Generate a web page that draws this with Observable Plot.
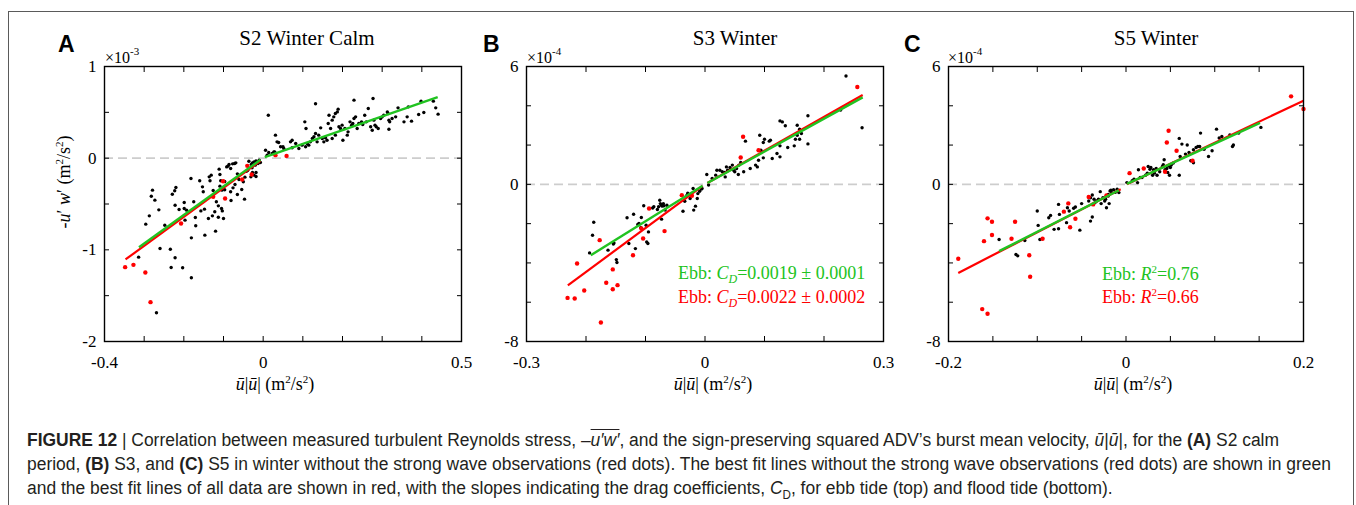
<!DOCTYPE html>
<html>
<head>
<meta charset="utf-8">
<script src="https://cdn.jsdelivr.net/npm/d3@7"></script>
<script src="https://cdn.jsdelivr.net/npm/@observablehq/plot@0.6"></script>
<style>
  body { margin: 0; background: #fff; }
  #root { position: relative; width: 1356px; height: 505px; background: #fff; overflow: hidden; }
  #outer { position: absolute; left: 8px; top: 11px; width: 1346px; height: 500px; box-sizing: border-box;
           border: 1px solid #5a5a5a; border-bottom: none; }
  #caption { position: absolute; left: 27px; top: 428px; font-family: 'Liberation Sans', Arial, sans-serif;
             font-size: 18px; line-height: 24px; color: #231f20; transform-origin: 0 0; }
  #caption div { white-space: nowrap; width: max-content; }
  .ov { text-decoration: overline; }
  svg.panel text { font-family: 'Liberation Serif','Times New Roman',serif; }
</style>
</head>
<body>
<div id="root">
  <div id="outer"></div>
  <div id="caption">
    <div id="cap1"><b>FIGURE 12</b> | Correlation between measured turbulent Reynolds stress, &#8211;<i class="ov">u&#8242;w&#8242;</i>, and the sign-preserving squared ADV&#8217;s burst mean velocity, <i>&#363;</i>|<i>&#363;</i>|, for the <b>(A)</b> S2 calm</div>
    <div>period, <b>(B)</b> S3, and <b>(C)</b> S5 in winter without the strong wave observations (red dots). The best fit lines without the strong wave observations (red dots) are shown in green</div>
    <div>and the best fit lines of all data are shown in red, with the slopes indicating the drag coefficients, <i>C</i><sub style="font-size:12px">D</sub>, for ebb tide (top) and flood tide (bottom).</div>
  </div>
</div>
<script>
// ---------------- DATA ----------------
// Panel A: S2 Winter Calm  (x: u|u| m^2/s^2, y: -u'w' in units of 1e-3 m^2/s^2)
const aBlack = [
  [-0.279,-0.349],[-0.282,-0.415],[-0.273,-0.458],[-0.287,-0.629],[-0.296,-0.720],[-0.263,-0.564],[-0.248,-0.731],
  [-0.260,-0.985],[-0.234,-0.993],[-0.222,-1.087],[-0.232,-1.193],[-0.203,-1.196],[-0.181,-1.305],[-0.269,-1.687],
  [-0.314,-1.080],[-0.220,-0.320],[-0.223,-0.356],[-0.229,-0.393],[-0.222,-0.513],[-0.212,-0.560],[-0.199,-0.484],
  [-0.199,-0.549],[-0.197,-0.676],[-0.193,-0.567],[-0.182,-0.222],[-0.175,-0.476],[-0.170,-0.738],[-0.181,-0.869],
  [-0.171,-0.647],[-0.160,-0.247],[-0.153,-0.313],[-0.151,-0.367],[-0.157,-0.575],[-0.148,-0.556],[-0.147,-0.840],
  [-0.136,-0.204],[-0.134,-0.247],[-0.131,-0.185],[-0.126,-0.353],[-0.138,-0.658],[-0.128,-0.629],[-0.120,-0.796],
  [-0.122,-0.585],[-0.118,-0.476],[-0.113,-0.644],[-0.113,-0.520],[-0.111,-0.120],[-0.109,-0.178],[-0.109,-0.305],
  [-0.107,-0.247],[-0.104,-0.349],[-0.105,-0.549],[-0.103,-0.575],[-0.097,-0.255],[-0.097,-0.345],[-0.100,-0.658],
  [-0.092,-0.095],[-0.089,-0.087],[-0.086,-0.069],[-0.082,-0.113],[-0.077,-0.062],[-0.072,-0.058],[-0.069,-0.051],
  [-0.082,-0.367],[-0.081,-0.462],[-0.076,-0.324],[-0.071,-0.287],[-0.065,-0.396],[-0.065,-0.171],[-0.061,-0.233],
  [-0.054,-0.342],[-0.050,-0.258],[-0.047,-0.447],[-0.046,-0.207],[-0.042,-0.142],[-0.039,-0.131],[-0.036,-0.033],
  [-0.030,-0.069],[-0.027,-0.051],[-0.023,-0.040],[-0.018,-0.029],[-0.016,-0.040],[-0.010,-0.022],[-0.028,-0.105],
  [-0.027,-0.156],[-0.023,-0.185],[-0.018,-0.156],[-0.031,-0.204],[-0.018,-0.200],[-0.013,-0.058],[-0.007,-0.047],
  [-0.020,-0.076],
  [0.013,0.469],[0.132,0.593],[0.229,0.633],[0.277,0.651],[0.398,0.622],[0.429,0.622],[0.435,0.549],[0.441,0.480],
  [0.031,0.251],[0.035,0.178],[0.039,0.171],[0.044,0.124],[0.029,0.069],[0.006,0.087],[0.014,0.062],[0.010,0.033],
  [0.023,0.051],[0.027,0.069],[0.050,0.124],[0.052,0.105],[0.069,0.178],[0.073,0.113],[0.082,0.160],[0.090,0.105],
  [0.098,0.142],[0.107,0.124],[0.111,0.160],[0.115,0.142],[0.119,0.178],[0.124,0.215],[0.128,0.233],[0.132,0.269],
  [0.136,0.178],[0.140,0.251],[0.145,0.331],[0.149,0.215],[0.153,0.178],[0.157,0.222],[0.161,0.196],[0.164,0.378],
  [0.166,0.469],[0.170,0.324],[0.174,0.415],[0.178,0.451],[0.182,0.487],[0.187,0.505],[0.189,0.535],[0.174,0.215],
  [0.182,0.251],[0.191,0.342],[0.195,0.324],[0.199,0.360],[0.201,0.196],[0.206,0.324],[0.212,0.251],[0.214,0.287],
  [0.219,0.396],[0.223,0.360],[0.226,0.378],[0.229,0.433],[0.233,0.451],[0.237,0.324],[0.241,0.378],[0.248,0.396],
  [0.251,0.367],[0.256,0.469],[0.260,0.396],[0.265,0.542],[0.271,0.342],[0.275,0.305],[0.279,0.415],[0.282,0.360],
  [0.285,0.342],[0.290,0.324],[0.296,0.433],[0.300,0.451],[0.304,0.469],[0.313,0.505],[0.315,0.487],[0.317,0.415],
  [0.319,0.396],[0.317,0.316],[0.325,0.433],[0.334,0.451],[0.340,0.549],[0.355,0.396],[0.363,0.451],[0.366,0.560],
  [0.374,0.404],[0.392,0.476],[0.405,0.498],[0.105,0.396],[0.108,0.324],[0.073,0.196]
];
const aRed = [
  [-0.348,-1.189],[-0.327,-1.164],[-0.297,-1.247],[-0.284,-1.571],[-0.207,-0.713],[-0.126,-0.422],[-0.096,-0.440],
  [-0.101,-0.251],[-0.053,-0.233],[-0.029,-0.178],[-0.040,-0.084],[0.031,0.033],[0.059,0.025]
];
const aFitRed   = [[-0.347,-1.105,-0.007,-0.030]];
const aFitGreen = [[-0.313,-0.971,-0.007,-0.018],[0.004,0.011,0.440,0.665]];

// Panel B: S3 Winter (y in units of 1e-4)
const bBlack = [
  [-0.187,-1.93],[-0.189,-2.59],[-0.194,-3.49],[-0.163,-3.35],[-0.154,-3.04],[-0.153,-2.99],[-0.149,-3.83],[-0.148,-3.98],
  [-0.131,-1.70],[-0.128,-3.01],[-0.120,-1.52],[-0.117,-3.27],[-0.113,-2.04],[-0.111,-1.99],[-0.107,-1.69],[-0.108,-2.21],
  [-0.103,-1.09],[-0.099,-2.08],[-0.098,-2.93],[-0.096,-3.01],[-0.095,-2.42],[-0.088,-1.20],[-0.086,-1.14],[-0.080,-1.28],
  [-0.078,-1.14],[-0.076,-0.81],[-0.075,-0.98],[-0.073,-1.06],[-0.072,-1.11],[-0.070,-0.98],[-0.069,-1.09],[-0.067,-1.31],
  [-0.064,-1.06],[-0.073,-1.77],[-0.037,-1.37],[-0.034,-0.86],[-0.031,-0.58],[-0.029,-0.45],[-0.025,-0.72],[-0.024,-0.52],
  [-0.020,-0.21],[-0.019,-1.31],[-0.016,-1.11],[-0.013,-0.72],[-0.012,-0.47],[-0.009,-0.35],[-0.006,-0.24],[-0.005,-0.21],
  [0.003,0.50],[0.006,-0.03],
  [0.237,5.52],[0.264,2.88],[0.228,3.78],[0.173,3.49],[0.126,3.23],[0.130,3.18],[0.135,2.98],[0.155,3.01],[0.159,2.81],
  [0.162,2.59],[0.155,2.50],[0.152,2.30],[0.139,1.88],[0.150,1.96],[0.159,2.30],[0.173,2.06],[0.126,1.96],[0.126,1.40],
  [0.121,1.57],[0.113,1.32],[0.110,2.25],[0.108,2.20],[0.100,2.30],[0.098,2.13],[0.092,2.50],[0.094,1.74],[0.098,1.35],
  [0.090,1.23],[0.088,0.89],[0.085,0.98],[0.076,0.81],[0.068,2.20],[0.065,0.64],[0.060,1.11],[0.057,0.98],[0.056,0.50],
  [0.053,0.81],[0.050,0.64],[0.048,0.72],[0.046,0.98],[0.042,0.86],[0.038,0.72],[0.036,0.89],[0.034,0.38],[0.033,0.60],
  [0.029,0.64],[0.025,0.72],[0.020,0.72],[0.018,0.47],[0.012,0.30]
];
const bRed = [
  [-0.177,-2.84],[-0.215,-4.03],[-0.231,-5.78],[-0.219,-5.81],[-0.203,-5.40],[-0.175,-7.03],[-0.166,-5.01],[-0.155,-4.33],
  [-0.155,-5.34],[-0.147,-5.13],[-0.121,-3.61],[-0.107,-2.25],[-0.104,-2.76],[-0.094,-1.23],[-0.068,-2.38],[-0.039,-0.55],
  [-0.022,-0.58],[0.064,2.42],[0.090,1.74],[0.060,1.37],[0.256,4.96]
];
const bFitRed   = [[-0.2305,-5.14,-0.004,-0.08],[0.004,0.07,0.265,4.55]];
const bFitGreen = [[-0.192,-3.61,-0.004,-0.07],[0.004,0.07,0.265,4.43]];

// Panel C: S5 Winter (y in units of 1e-4)
const cBlack = [
  [-0.143,-2.81],[-0.124,-3.57],[-0.122,-3.64],[-0.114,-2.86],[-0.100,-1.36],[-0.099,-2.09],[-0.097,-2.81],[-0.087,-1.70],
  [-0.085,-1.58],[-0.081,-2.29],[-0.076,-1.02],[-0.076,-2.26],[-0.075,-1.53],[-0.067,-1.95],[-0.066,-1.19],[-0.064,-1.36],
  [-0.059,-1.22],[-0.057,-1.15],[-0.052,-2.33],[-0.050,-0.98],[-0.040,-1.87],[-0.038,-1.66],[-0.042,-0.85],[-0.040,-0.68],
  [-0.038,-0.54],[-0.036,-0.76],[-0.035,-0.93],[-0.033,-0.85],[-0.031,-0.76],[-0.029,-0.37],[-0.028,-0.98],[-0.026,-0.68],
  [-0.024,-0.85],[-0.023,-0.76],[-0.020,-0.59],[-0.020,-0.51],[-0.018,-0.34],[-0.017,-0.30],[-0.016,-0.42],[-0.014,-0.27],
  [-0.012,-0.40],[-0.010,-0.25],[-0.008,-0.42],[-0.022,-1.19],[-0.019,-0.98],
  [0.014,0.74],[0.016,0.35],[0.009,0.26],[0.007,0.18],[0.022,0.46],[0.024,0.57],[0.025,0.91],[0.027,0.77],[0.028,0.86],
  [0.030,0.46],[0.031,0.74],[0.032,0.57],[0.034,0.81],[0.035,0.46],[0.038,0.64],[0.041,0.91],[0.042,1.00],[0.043,1.25],
  [0.044,0.74],[0.046,0.81],[0.047,0.60],[0.048,0.94],[0.050,0.86],[0.051,0.98],[0.053,1.08],[0.049,0.46],[0.060,2.34],
  [0.063,2.05],[0.060,0.46],[0.061,1.42],[0.067,1.54],[0.069,2.00],[0.071,1.62],[0.073,1.20],[0.076,1.10],[0.076,1.76],
  [0.079,1.88],[0.081,1.93],[0.083,1.93],[0.084,2.61],[0.088,1.79],[0.093,1.42],[0.097,1.71],[0.102,2.81],[0.105,2.36],
  [0.108,2.44],[0.117,2.51],[0.120,1.93],[0.121,2.00],[0.127,2.61],[0.152,2.90],[0.001,0.09],[0.013,0.09],[0.018,0.35]
];
const cRed = [
  [-0.189,-3.79],[-0.160,-2.89],[-0.156,-1.73],[-0.151,-1.90],[-0.151,-2.58],[-0.129,-2.77],[-0.125,-1.90],[-0.109,-3.61],
  [-0.108,-4.70],[-0.094,-2.77],[-0.162,-6.35],[-0.156,-6.59],[-0.070,-1.39],[-0.065,-0.97],[-0.063,-2.18],[-0.057,-1.75],
  [-0.042,-0.64],[-0.037,-1.02],[-0.022,-0.56],[0.004,0.57],[0.020,0.81],[0.044,0.64],[0.046,2.13],[0.048,2.73],
  [0.057,1.71],[0.075,1.20],[0.186,4.48],[0.200,3.84]
];
const cFitRed   = [[-0.189,-4.51,-0.006,-0.25],[0.001,0.00,0.200,4.26]];
const cFitGreen = [[-0.143,-3.40,-0.008,-0.30],[0.001,0.02,0.151,3.13]];

// Axes
const aXTicks = [-0.4,-0.3,-0.2,-0.1,0,0.1,0.2,0.3,0.4,0.5];
const aXLabels = [-0.4,0,0.5];
const aYTicks = [-2,-1.5,-1,-0.5,0,0.5,1];
const aYLabels = [-2,-1,0,1];
const bXTicks = [-0.3,-0.2,-0.1,0,0.1,0.2,0.3];
const bXLabels = [-0.3,0,0.3];
const cXTicks = [-0.2,-0.15,-0.1,-0.05,0,0.05,0.1,0.15,0.2];
const cXLabels = [-0.2,0,0.2];
const bcYTicks = [-8,-6,-4,-2,0,2,4,6];
const bcYLabels = [-8,0,6];

const titles = ["S2 Winter Calm","S3 Winter","S5 Winter"];
const letters = ["A","B","C"];
const exponents = ["-3","-4","-4"];
const bNotes = ["0.0019 \u00b1 0.0001","0.0022 \u00b1 0.0002"];
const cNotes = ["0.76","0.66"];

// ---------------- DRAW ----------------
const SERIF = "'Liberation Serif','Times New Roman',serif";
const GREEN = "#21c321", RED = "#ff0000";
const root = document.getElementById("root");

function panel(p) {
  const xy = {x: d => d[0], y: d => d[1]};
  const seg = {x1: d => d[0], y1: d => d[1], x2: d => d[2], y2: d => d[3]};
  const fmt = d => String(d);
  const tf = {fontFamily: SERIF, fontSize: 17};
  const svg = Plot.plot({
    width: p.width, height: 400,
    marginLeft: p.ml, marginRight: p.mr, marginTop: 66, marginBottom: 59,
    x: {domain: p.xDomain}, y: {domain: p.yDomain},
    style: {background: "transparent", fontFamily: SERIF, fontSize: "17px", color: "#000", overflow: "visible"},
    marks: [
      Plot.ruleY([0], {stroke: "#cdcdcd", strokeWidth: 1.6, strokeDasharray: "9,5"}),
      Plot.dot(p.black, {...xy, r: 1.7, fill: "#000", stroke: "none"}),
      Plot.dot(p.red, {...xy, r: 2.2, fill: RED, stroke: "none"}),
      Plot.link(p.fitRed, {...seg, stroke: RED, strokeWidth: 2.2}),
      Plot.link(p.fitGreen, {...seg, stroke: GREEN, strokeWidth: 2.4}),
      Plot.frame({stroke: "#000", strokeWidth: 1.4}),
      Plot.axisX(p.xTicks, {anchor: "bottom", tickSize: 5, dy: -5, fill: "none", label: null}),
      Plot.axisX(p.xTicks, {anchor: "top", tickSize: 5, dy: 5, fill: "none", label: null}),
      Plot.axisY(p.yTicks, {anchor: "left", tickSize: 5, dx: 5, fill: "none", label: null}),
      Plot.axisY(p.yTicks, {anchor: "right", tickSize: 5, dx: -5, fill: "none", label: null}),
      Plot.axisX(p.xLabels, {anchor: "bottom", tickSize: 0, tickPadding: 14, tickFormat: fmt, label: null, ...tf}),
      Plot.axisY(p.yLabels, {anchor: "left", tickSize: 0, tickPadding: 8, tickFormat: fmt, label: null, ...tf})
    ]
  });
  svg.classList.add("panel");
  svg.style.position = "absolute";
  svg.style.left = p.left + "px";
  svg.style.top = "0px";
  svg.style.maxWidth = "none";
  svg.style.fontFamily = SERIF;
  svg.style.fontSize = "17px";
  svg.querySelectorAll("text").forEach(t => { t.setAttribute("font-family", SERIF); });
  root.appendChild(svg);
}

panel({left: 10, width: 460, ml: 94, mr: 9, xDomain: [-0.4, 0.5], yDomain: [-2, 1],
       xTicks: aXTicks, xLabels: aXLabels, yTicks: aYTicks, yLabels: aYLabels,
       black: aBlack, red: aRed, fitRed: aFitRed, fitGreen: aFitGreen});
panel({left: 475, width: 425, ml: 51, mr: 17, xDomain: [-0.3, 0.3], yDomain: [-8, 6],
       xTicks: bXTicks, xLabels: bXLabels, yTicks: bcYTicks, yLabels: bcYLabels,
       black: bBlack, red: bRed, fitRed: bFitRed, fitGreen: bFitGreen});
panel({left: 905, width: 445, ml: 43, mr: 47, xDomain: [-0.2, 0.2], yDomain: [-8, 6],
       xTicks: cXTicks, xLabels: cXLabels, yTicks: bcYTicks, yLabels: bcYLabels,
       black: cBlack, red: cRed, fitRed: cFitRed, fitGreen: cFitGreen});

// Overlay text
const ov = d3.select(root).append("svg")
  .attr("width", 1356).attr("height", 505)
  .style("position", "absolute").style("left", "0px").style("top", "0px")
  .style("pointer-events", "none").style("overflow", "visible");

function txt(x, y, parts, o = {}) {
  const t = ov.append("text")
    .attr("font-family", o.family || SERIF)
    .attr("font-size", o.size || 17)
    .attr("font-weight", o.weight || "normal")
    .attr("text-anchor", o.anchor || "start")
    .attr("fill", o.fill || "#000");
  if (o.transform) t.attr("transform", o.transform).attr("x", 0).attr("y", 0);
  else t.attr("x", x).attr("y", y);
  for (const p of parts) {
    const s = t.append("tspan").text(p.t);
    if (p.i) s.attr("font-style", "italic");
    if (p.dy) s.attr("dy", p.dy);
    if (p.size) s.attr("font-size", p.size);
  }
}

const titleX = [307, 735, 1156];
const letterX = [58, 483, 904];
const multX = [105, 527, 948];
const xlabX = [275, 713, 1133];
for (let k = 0; k < 3; k++) {
  txt(titleX[k], 44.5, [{t: titles[k]}], {size: 21, anchor: "middle"});
  txt(letterX[k], 52, [{t: letters[k]}], {size: 23, weight: "bold", family: "'Liberation Sans',Arial,sans-serif"});
  txt(multX[k], 63, [{t: "\u00d710"}, {t: exponents[k], size: 11, dy: -8}], {size: 16});
  txt(xlabX[k], 390, [{t: "\u016b", i: 1}, {t: "|"}, {t: "\u016b", i: 1}, {t: "| (m"},
                      {t: "2", size: 11, dy: -7}, {t: "/s", dy: 7}, {t: "2", size: 11, dy: -7}, {t: ")", dy: 7}],
      {size: 18, anchor: "middle"});
}
txt(0, 0, [{t: "-"}, {t: "u", i: 1}, {t: "\u2032"}, {t: " "}, {t: "w", i: 1}, {t: "\u2032"}, {t: " (m"},
           {t: "2", size: 11, dy: -7}, {t: "/s", dy: 7}, {t: "2", size: 11, dy: -7}, {t: ")", dy: 7}],
    {size: 18, anchor: "middle", transform: "translate(70,182) rotate(-90)"});

// Annotations
txt(678, 279, [{t: "Ebb: "}, {t: "C", i: 1}, {t: "D", i: 1, size: 12, dy: 4}, {t: "=" + bNotes[0], dy: -4}], {size: 18, fill: GREEN});
txt(678, 303, [{t: "Ebb: "}, {t: "C", i: 1}, {t: "D", i: 1, size: 12, dy: 4}, {t: "=" + bNotes[1], dy: -4}], {size: 18, fill: RED});
txt(1102, 280, [{t: "Ebb: "}, {t: "R", i: 1}, {t: "2", size: 11, dy: -7}, {t: "=" + cNotes[0], dy: 7}], {size: 18, fill: GREEN});
txt(1102, 303, [{t: "Ebb: "}, {t: "R", i: 1}, {t: "2", size: 11, dy: -7}, {t: "=" + cNotes[1], dy: 7}], {size: 18, fill: RED});

// Fit caption width (condensed look)
const cap = document.getElementById("caption");
const w1 = document.getElementById("cap1").getBoundingClientRect().width;
if (w1 > 0) cap.style.transform = `scaleX(${Math.min(1.2, Math.max(0.6, 1252 / w1))})`;
</script>
</body>
</html>
